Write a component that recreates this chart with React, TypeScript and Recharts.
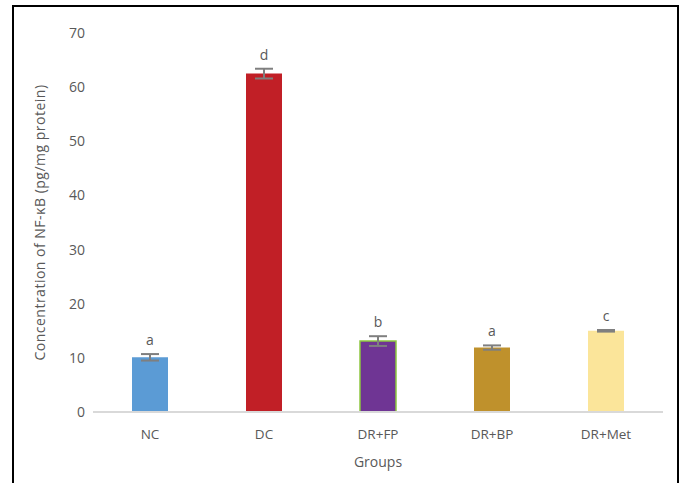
import React from "react";
import { Bar, BarChart, Cell, ErrorBar, LabelList, XAxis, YAxis } from "recharts";

const groups = ["NC", "DC", "DR+FP", "DR+BP", "DR+Met"];
const means = [10.1, 62.5, 13.1, 11.9, 15.0];
const errors = [0.6, 0.9, 0.9, 0.4, 0.15];
const letters = ["a", "d", "b", "a", "c"];
const colors = ["#5b9bd5", "#c11f26", "#6f3594", "#bf912c", "#fbe59a"];
const yTicks = [0, 10, 20, 30, 40, 50, 60, 70];

const data = groups.map((name, i) => ({
  name,
  value: means[i],
  err: errors[i],
  letter: letters[i],
}));

const font = "'Open Sans', sans-serif";
const gray = "#595959";

function LetterLabel(props: any) {
  const { x, y, width, height, index, value } = props;
  const d = data[index];
  const errPx = d.value ? (d.err / d.value) * height : 0;
  return (
    <text
      x={x + width / 2}
      y={y - errPx - 9}
      textAnchor="middle"
      fill={gray}
      fontSize={14}
      fontFamily={font}
    >
      {value}
    </text>
  );
}

export default function App() {
  return (
    <div style={{ position: "fixed", inset: 0, overflow: "hidden", background: "#fff" }}>
      <div
        style={{
          position: "absolute",
          left: 12,
          top: 5,
          width: 663,
          height: 500,
          border: "2px solid #000",
        }}
      />
      <div style={{ position: "absolute", left: 0, top: 0 }}>
        <BarChart
          width={682}
          height={483}
          data={data}
          margin={{ top: 33, right: 19, bottom: 11, left: 20 }}
        >
          <XAxis
            dataKey="name"
            height={60}
            tickLine={false}
            tickSize={0}
            tickMargin={17}
            stroke="#d9d9d9"
            strokeWidth={2}
            tick={{ fill: gray, fontSize: 13.5, fontFamily: font }}
            label={{
              value: "Groups",
              position: "insideBottom",
              offset: 5,
              fill: gray,
              fontSize: 14,
              fontFamily: font,
            }}
          />
          <YAxis
            width={73}
            domain={[0, 70]}
            ticks={yTicks}
            axisLine={false}
            tickLine={false}
            tickSize={0}
            tickMargin={8}
            tick={{ fill: gray, fontSize: 14, fontFamily: font }}
            label={{
              value: "Concentration of NF-κB (pg/mg protein)",
              angle: -90,
              position: "insideLeft",
              offset: 0,
              dx: 20,
              textAnchor: "middle",
              fill: gray,
              fontSize: 14,
              letterSpacing: 0.5,
              fontFamily: font,
            }}
          />
          <Bar dataKey="value" barSize={36} isAnimationActive={false}>
            {data.map((d, i) => (
              <Cell
                key={d.name}
                fill={colors[i]}
                stroke={d.name === "DR+FP" ? "#8dc63f" : "none"}
                strokeWidth={d.name === "DR+FP" ? 1.5 : 0}
              />
            ))}
            <ErrorBar dataKey="err" width={9} stroke="#7f7f7f" strokeWidth={2} direction="y" />
            <LabelList dataKey="letter" content={LetterLabel} />
          </Bar>
        </BarChart>
      </div>
    </div>
  );
}
